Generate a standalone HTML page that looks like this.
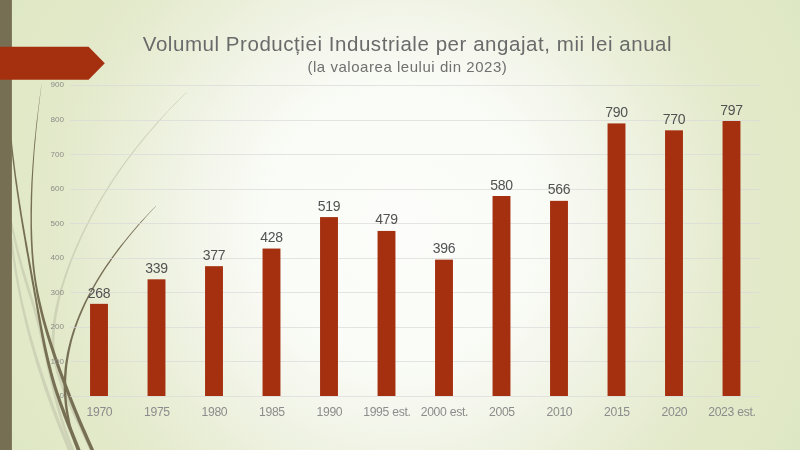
<!DOCTYPE html>
<html lang="ro">
<head>
<meta charset="utf-8">
<title>Volumul Producției Industriale per angajat</title>
<style>
html,body{margin:0;padding:0;}
body{width:800px;height:450px;overflow:hidden;position:relative;font-family:"Liberation Sans",sans-serif;background:#dee7c3;}
#bg{position:absolute;left:0;top:0;width:800px;height:450px;
background:radial-gradient(circle 460px at 400px 225px,#fcfdfa 0px,#fafcf7 130px,#f5f7ee 190px,#f1f4e6 220px,#e8edd4 300px,#e3e9ca 350px,#e1e9c7 400px,#dee7c3 460px);}
svg{position:absolute;left:0;top:0;width:800px;height:450px;display:block;}
.t{position:absolute;white-space:nowrap;}
.title{left:107.5px;width:600px;top:32px;text-align:center;color:#6a6a6a;font-size:20.5px;line-height:24px;letter-spacing:0.55px;}
.sub{left:107.4px;width:600px;top:57.9px;text-align:center;color:#707070;font-size:15px;line-height:18px;letter-spacing:0.54px;}
.yl{left:14px;width:50px;text-align:right;font-size:8.1px;line-height:10px;color:#8c8c88;}
.dl{width:60px;text-align:center;font-size:14px;line-height:16px;color:#525252;letter-spacing:-0.3px;}
.xl{width:90px;text-align:center;font-size:12.2px;line-height:14px;color:#8c8c8c;top:405px;letter-spacing:-0.3px;}
</style>
</head>
<body>
<div id="bg"></div>
<svg viewBox="0 0 800 450">
<path fill="#ced2b7" d="M10.5 238.1 L10.8 241.7 L11.2 245.4 L11.6 249.0 L12.0 252.6 L12.5 256.3 L13.0 259.9 L13.5 263.6 L14.1 267.2 L14.6 270.8 L15.2 274.5 L15.8 278.1 L16.5 281.7 L17.1 285.4 L17.8 289.0 L18.5 292.6 L19.2 296.3 L20.0 299.9 L20.7 303.5 L21.5 307.2 L22.3 310.8 L23.2 314.5 L24.0 318.1 L24.9 321.7 L25.8 325.4 L26.7 329.0 L27.6 332.6 L28.6 336.3 L29.5 339.9 L30.5 343.6 L31.5 347.2 L32.6 350.8 L33.6 354.5 L34.7 358.1 L35.7 361.8 L36.8 365.4 L38.0 369.0 L39.1 372.7 L40.3 376.3 L41.5 380.0 L42.7 383.6 L43.9 387.2 L45.1 390.9 L46.4 394.5 L47.7 398.1 L49.0 401.8 L50.3 405.4 L51.6 409.0 L53.0 412.7 L54.4 416.3 L55.7 419.9 L57.2 423.6 L58.6 427.2 L60.0 430.8 L61.5 434.5 L62.9 438.1 L64.4 441.7 L65.9 445.4 L67.4 449.0 L69.0 452.6 L72.0 451.4 L70.5 447.7 L69.0 444.1 L67.5 440.5 L66.0 436.9 L64.5 433.2 L63.1 429.6 L61.6 426.0 L60.2 422.4 L58.8 418.8 L57.4 415.1 L56.1 411.5 L54.7 407.9 L53.4 404.3 L52.1 400.7 L50.8 397.0 L49.5 393.4 L48.2 389.8 L47.0 386.2 L45.7 382.6 L44.5 379.0 L43.3 375.3 L42.1 371.7 L40.9 368.1 L39.8 364.5 L38.6 360.9 L37.5 357.3 L36.4 353.7 L35.3 350.0 L34.2 346.4 L33.2 342.8 L32.2 339.2 L31.2 335.6 L30.2 332.0 L29.2 328.3 L28.3 324.7 L27.4 321.1 L26.5 317.5 L25.6 313.9 L24.8 310.3 L23.9 306.6 L23.1 303.0 L22.3 299.4 L21.5 295.8 L20.8 292.2 L20.1 288.6 L19.4 284.9 L18.7 281.3 L18.0 277.7 L17.4 274.1 L16.8 270.5 L16.2 266.8 L15.7 263.2 L15.1 259.6 L14.6 256.0 L14.1 252.4 L13.6 248.8 L13.2 245.1 L12.7 241.5 L12.3 237.9Z"/>
<path fill="#ced2b7" d="M10.1 222.2 L10.9 226.1 L11.7 230.0 L12.6 233.9 L13.4 237.8 L14.2 241.7 L15.1 245.7 L16.0 249.6 L16.9 253.5 L17.9 257.4 L18.9 261.3 L20.0 265.2 L21.0 269.1 L22.1 273.0 L23.3 277.0 L24.4 280.9 L25.6 284.8 L26.9 288.7 L28.1 292.6 L29.3 296.5 L30.6 300.4 L31.7 304.2 L32.9 308.1 L33.9 312.0 L35.0 315.9 L36.0 319.8 L37.0 323.7 L38.0 327.6 L38.9 331.5 L39.9 335.4 L40.8 339.3 L41.7 343.1 L42.5 347.0 L43.4 350.9 L44.3 354.8 L45.1 358.7 L46.0 362.6 L46.8 366.5 L47.7 370.4 L48.6 374.3 L49.5 378.2 L50.4 382.1 L51.3 386.0 L52.2 389.9 L53.2 393.9 L54.2 397.8 L55.2 401.7 L56.2 405.6 L57.3 409.5 L58.4 413.4 L59.6 417.3 L60.8 421.2 L62.1 425.1 L63.4 429.0 L64.7 433.0 L66.2 436.9 L67.6 440.8 L69.2 444.7 L70.8 448.6 L72.4 452.5 L74.9 451.5 L73.3 447.6 L71.7 443.7 L70.1 439.8 L68.7 435.9 L67.3 432.1 L65.9 428.2 L64.6 424.3 L63.4 420.4 L62.2 416.5 L61.0 412.6 L59.9 408.8 L58.8 404.9 L57.8 401.0 L56.8 397.1 L55.8 393.2 L54.8 389.3 L53.9 385.4 L53.0 381.5 L52.1 377.6 L51.2 373.7 L50.3 369.8 L49.5 365.9 L48.6 362.0 L47.8 358.2 L46.9 354.3 L46.0 350.4 L45.2 346.5 L44.3 342.5 L43.4 338.6 L42.5 334.7 L41.6 330.8 L40.6 326.9 L39.6 323.0 L38.6 319.1 L37.6 315.2 L36.5 311.3 L35.4 307.4 L34.3 303.5 L33.1 299.6 L31.9 295.7 L30.7 291.8 L29.4 287.9 L28.2 284.0 L27.0 280.1 L25.8 276.2 L24.7 272.3 L23.5 268.4 L22.4 264.5 L21.4 260.7 L20.3 256.8 L19.3 252.9 L18.3 249.0 L17.4 245.1 L16.5 241.2 L15.6 237.4 L14.7 233.5 L13.8 229.6 L12.9 225.7 L12.0 221.8Z"/>
<path fill="#ced2b7" d="M186.6 91.9 L180.4 98.0 L174.3 104.1 L168.5 110.2 L162.8 116.3 L157.2 122.3 L151.8 128.4 L146.6 134.5 L141.5 140.6 L136.6 146.7 L131.8 152.8 L127.2 158.9 L122.7 165.0 L118.4 171.1 L114.2 177.2 L110.2 183.3 L106.3 189.4 L102.5 195.5 L98.9 201.6 L95.4 207.7 L92.0 213.8 L88.8 219.9 L85.6 226.0 L82.7 232.1 L79.8 238.2 L77.0 244.3 L74.4 250.4 L71.8 256.5 L69.4 262.6 L67.1 268.7 L64.9 274.8 L62.9 280.9 L61.0 287.0 L59.1 293.1 L57.5 299.2 L56.0 305.3 L54.7 311.5 L53.7 317.6 L52.8 323.7 L52.2 329.9 L51.8 336.0 L51.7 342.2 L51.9 348.4 L52.6 354.6 L53.5 360.7 L54.9 366.9 L56.5 373.1 L58.4 379.2 L60.5 385.4 L62.8 391.5 L65.3 397.6 L68.0 403.7 L70.8 409.8 L73.6 415.9 L76.5 422.0 L79.4 428.1 L82.2 434.2 L85.0 440.3 L87.8 446.4 L90.4 452.5 L92.6 451.5 L90.0 445.4 L87.2 439.3 L84.4 433.2 L81.5 427.1 L78.7 421.0 L75.8 414.9 L73.0 408.8 L70.3 402.7 L67.8 396.6 L65.3 390.5 L63.0 384.4 L60.9 378.4 L59.1 372.3 L57.5 366.3 L56.2 360.3 L55.2 354.2 L54.6 348.2 L54.4 342.2 L54.5 336.2 L54.8 330.1 L55.5 324.1 L56.3 318.0 L57.3 311.9 L58.5 305.9 L59.8 299.8 L61.2 293.7 L62.9 287.6 L64.7 281.5 L66.6 275.4 L68.7 269.3 L71.0 263.2 L73.3 257.1 L75.8 251.0 L78.4 244.9 L81.1 238.8 L83.9 232.7 L86.9 226.6 L90.0 220.5 L93.2 214.4 L96.5 208.3 L100.0 202.2 L103.6 196.1 L107.3 190.0 L111.2 183.9 L115.2 177.8 L119.4 171.7 L123.7 165.6 L128.1 159.5 L132.7 153.4 L137.4 147.3 L142.3 141.2 L147.3 135.1 L152.5 129.0 L157.8 122.9 L163.3 116.7 L168.9 110.6 L174.8 104.5 L180.7 98.4 L186.9 92.3Z"/>
<path fill="#766f54" d="M10.6 140.1 L11.0 145.4 L11.5 150.7 L12.1 155.9 L12.7 161.2 L13.4 166.5 L14.0 171.8 L14.7 177.1 L15.4 182.4 L16.2 187.7 L16.9 193.0 L17.7 198.3 L18.5 203.6 L19.3 208.9 L20.1 214.2 L21.0 219.5 L21.8 224.8 L22.7 230.0 L23.6 235.3 L24.5 240.6 L25.4 245.9 L26.3 251.2 L27.3 256.5 L28.2 261.8 L29.1 267.1 L30.1 272.4 L31.0 277.7 L31.9 283.0 L32.9 288.2 L33.8 293.5 L34.8 298.8 L35.7 304.1 L36.6 309.4 L37.5 314.7 L38.4 320.0 L39.4 325.3 L40.3 330.6 L41.3 335.9 L42.3 341.2 L43.3 346.5 L44.4 351.8 L45.6 357.1 L46.8 362.4 L48.1 367.8 L49.5 373.1 L50.9 378.4 L52.4 383.7 L54.0 389.0 L55.7 394.3 L57.5 399.6 L59.3 405.0 L61.3 410.3 L63.2 415.6 L65.3 420.9 L67.3 426.2 L69.4 431.5 L71.5 436.8 L73.5 442.1 L75.6 447.4 L77.6 452.7 L81.1 451.3 L79.0 446.0 L76.9 440.8 L74.8 435.5 L72.7 430.2 L70.5 424.9 L68.4 419.7 L66.4 414.4 L64.3 409.1 L62.4 403.9 L60.5 398.6 L58.7 393.3 L56.9 388.1 L55.3 382.8 L53.8 377.6 L52.3 372.3 L51.0 367.0 L49.7 361.8 L48.4 356.5 L47.2 351.2 L46.0 346.0 L44.9 340.7 L43.8 335.4 L42.7 330.1 L41.7 324.9 L40.7 319.6 L39.7 314.3 L38.7 309.0 L37.7 303.8 L36.8 298.5 L35.8 293.2 L34.9 287.9 L33.9 282.6 L33.0 277.3 L32.0 272.0 L31.1 266.7 L30.1 261.5 L29.2 256.2 L28.2 250.9 L27.3 245.6 L26.3 240.3 L25.4 235.0 L24.5 229.7 L23.6 224.5 L22.7 219.2 L21.8 213.9 L21.0 208.6 L20.1 203.3 L19.3 198.0 L18.5 192.8 L17.7 187.5 L17.0 182.2 L16.2 176.9 L15.5 171.6 L14.8 166.3 L14.2 161.1 L13.5 155.8 L12.9 150.5 L12.3 145.2 L11.8 139.9Z"/>
<path fill="#766f54" d="M41.6 84.0 L40.7 90.2 L39.8 96.5 L39.0 102.7 L38.2 108.9 L37.4 115.2 L36.6 121.4 L35.9 127.6 L35.3 133.9 L34.6 140.1 L34.0 146.3 L33.5 152.6 L33.0 158.8 L32.5 165.0 L32.1 171.3 L31.7 177.5 L31.3 183.8 L31.1 190.0 L30.8 196.3 L30.7 202.5 L30.5 208.7 L30.5 215.0 L30.5 221.2 L30.5 227.5 L30.6 233.7 L30.8 240.0 L31.1 246.2 L31.4 252.5 L31.9 258.7 L32.4 265.0 L33.1 271.2 L33.9 277.5 L34.8 283.8 L35.8 290.0 L36.8 296.3 L38.1 302.6 L39.5 308.8 L41.0 315.1 L42.6 321.4 L44.3 327.6 L46.1 333.9 L48.0 340.2 L50.0 346.4 L52.0 352.7 L54.1 358.9 L56.3 365.2 L58.5 371.4 L60.8 377.7 L63.1 384.0 L65.4 390.2 L67.9 396.5 L70.3 402.7 L72.8 408.9 L75.4 415.2 L77.9 421.5 L80.6 427.7 L83.3 434.0 L86.0 440.2 L88.8 446.5 L91.7 452.7 L94.7 451.3 L91.9 445.1 L89.1 438.8 L86.4 432.6 L83.7 426.4 L81.0 420.2 L78.4 414.0 L75.8 407.7 L73.3 401.5 L70.9 395.3 L68.5 389.0 L66.1 382.8 L63.7 376.6 L61.4 370.4 L59.2 364.2 L57.0 357.9 L54.9 351.7 L52.8 345.5 L50.8 339.3 L48.8 333.1 L47.0 326.9 L45.2 320.7 L43.5 314.5 L42.0 308.2 L40.5 302.0 L39.1 295.8 L37.8 289.6 L36.7 283.4 L35.7 277.2 L34.9 271.0 L34.2 264.8 L33.6 258.6 L33.1 252.4 L32.7 246.1 L32.4 239.9 L32.2 233.7 L32.0 227.4 L31.9 221.2 L31.9 215.0 L32.0 208.8 L32.1 202.5 L32.2 196.3 L32.4 190.1 L32.6 183.8 L32.9 177.6 L33.2 171.4 L33.6 165.1 L34.0 158.9 L34.4 152.6 L34.9 146.4 L35.5 140.2 L36.0 133.9 L36.6 127.7 L37.3 121.5 L37.9 115.2 L38.6 109.0 L39.4 102.7 L40.1 96.5 L40.9 90.3 L41.7 84.0Z"/>
<path fill="#766f54" d="M155.9 205.9 L152.1 209.8 L148.3 213.7 L144.6 217.7 L141.0 221.6 L137.4 225.5 L134.0 229.5 L130.6 233.4 L127.3 237.4 L124.1 241.4 L120.9 245.3 L117.8 249.3 L114.9 253.2 L111.9 257.2 L109.1 261.2 L106.4 265.1 L103.7 269.1 L101.1 273.1 L98.6 277.0 L96.2 281.0 L93.9 285.0 L91.6 288.9 L89.4 292.9 L87.3 296.9 L85.3 300.8 L83.4 304.8 L81.6 308.8 L79.8 312.8 L78.2 316.7 L76.6 320.7 L75.1 324.7 L73.7 328.7 L72.4 332.6 L71.2 336.6 L70.0 340.6 L69.0 344.6 L68.0 348.5 L67.1 352.5 L66.4 356.5 L65.7 360.5 L65.1 364.5 L64.6 368.5 L64.3 372.5 L64.0 376.5 L63.8 380.5 L63.7 384.5 L63.7 388.5 L63.9 392.5 L64.1 396.5 L64.4 400.4 L64.8 404.4 L65.3 408.4 L66.0 412.4 L66.7 416.4 L67.6 420.4 L68.5 424.4 L69.6 428.4 L70.8 432.3 L72.2 436.3 L73.6 440.2 L74.9 439.8 L73.7 435.8 L72.6 431.8 L71.5 427.8 L70.6 423.9 L69.8 419.9 L69.0 416.0 L68.3 412.0 L67.7 408.1 L67.2 404.2 L66.8 400.2 L66.5 396.3 L66.3 392.4 L66.2 388.4 L66.2 384.5 L66.2 380.5 L66.4 376.6 L66.7 372.7 L67.0 368.7 L67.4 364.8 L68.0 360.8 L68.6 356.9 L69.3 353.0 L70.1 349.0 L71.0 345.1 L71.9 341.1 L73.0 337.1 L74.2 333.2 L75.4 329.2 L76.8 325.3 L78.2 321.3 L79.7 317.4 L81.4 313.4 L83.1 309.5 L84.9 305.5 L86.7 301.5 L88.7 297.6 L90.7 293.6 L92.9 289.6 L95.1 285.7 L97.4 281.7 L99.8 277.7 L102.3 273.8 L104.8 269.8 L107.4 265.9 L110.2 261.9 L112.9 257.9 L115.8 253.9 L118.8 250.0 L121.8 246.0 L124.9 242.0 L128.1 238.1 L131.4 234.1 L134.7 230.1 L138.1 226.1 L141.6 222.1 L145.1 218.1 L148.7 214.1 L152.4 210.1 L156.2 206.1Z"/>
<rect x="0" y="0" width="11.9" height="450" fill="#766f54"/>
</svg>
<svg viewBox="0 0 800 450">
<g fill="#d9d9d9" fill-opacity="0.68" shape-rendering="crispEdges">
<rect x="70" y="396" width="690.4" height="1"/>
<rect x="70" y="361" width="690.4" height="1"/>
<rect x="70" y="327" width="690.4" height="1"/>
<rect x="70" y="292" width="690.4" height="1"/>
<rect x="70" y="258" width="690.4" height="1"/>
<rect x="70" y="223" width="690.4" height="1"/>
<rect x="70" y="189" width="690.4" height="1"/>
<rect x="70" y="154" width="690.4" height="1"/>
<rect x="70" y="120" width="690.4" height="1"/>
<rect x="70" y="85" width="690.4" height="1"/>
</g>
<g fill="#a5300f">
<rect x="90.05" y="303.86" width="17.90" height="92.14"/>
<rect x="147.55" y="279.32" width="17.90" height="116.68"/>
<rect x="205.05" y="266.18" width="17.90" height="129.82"/>
<rect x="262.55" y="248.55" width="17.90" height="147.45"/>
<rect x="320.05" y="217.10" width="17.90" height="178.90"/>
<rect x="377.55" y="230.93" width="17.90" height="165.07"/>
<rect x="435.05" y="259.62" width="17.90" height="136.38"/>
<rect x="492.55" y="196.01" width="17.90" height="199.99"/>
<rect x="550.05" y="200.85" width="17.90" height="195.15"/>
<rect x="607.55" y="123.42" width="17.90" height="272.58"/>
<rect x="665.05" y="130.34" width="17.90" height="265.66"/>
<rect x="722.55" y="121.00" width="17.90" height="275.00"/>
</g>
<polygon points="0,46.8 88.6,46.8 104.8,63.3 88.6,79.8 0,79.8" fill="#a5300f"/>
</svg>
<div class="t yl" style="top:391px">0</div>
<div class="t yl" style="top:357px">100</div>
<div class="t yl" style="top:322px">200</div>
<div class="t yl" style="top:288px">300</div>
<div class="t yl" style="top:253px">400</div>
<div class="t yl" style="top:219px">500</div>
<div class="t yl" style="top:184px">600</div>
<div class="t yl" style="top:150px">700</div>
<div class="t yl" style="top:115px">800</div>
<div class="t yl" style="top:80px">900</div>
<div class="t dl" style="left:69.1px;top:285px">268</div>
<div class="t xl" style="left:54.4px">1970</div>
<div class="t dl" style="left:126.6px;top:260px">339</div>
<div class="t xl" style="left:111.9px">1975</div>
<div class="t dl" style="left:184.1px;top:247px">377</div>
<div class="t xl" style="left:169.4px">1980</div>
<div class="t dl" style="left:241.6px;top:229px">428</div>
<div class="t xl" style="left:226.9px">1985</div>
<div class="t dl" style="left:299.1px;top:198px">519</div>
<div class="t xl" style="left:284.4px">1990</div>
<div class="t dl" style="left:356.6px;top:211px">479</div>
<div class="t xl" style="left:341.9px">1995 est.</div>
<div class="t dl" style="left:414.1px;top:240px">396</div>
<div class="t xl" style="left:399.4px">2000 est.</div>
<div class="t dl" style="left:471.6px;top:177px">580</div>
<div class="t xl" style="left:456.9px">2005</div>
<div class="t dl" style="left:529.1px;top:181px">566</div>
<div class="t xl" style="left:514.4px">2010</div>
<div class="t dl" style="left:586.6px;top:104px">790</div>
<div class="t xl" style="left:571.9px">2015</div>
<div class="t dl" style="left:644.1px;top:111px">770</div>
<div class="t xl" style="left:629.4px">2020</div>
<div class="t dl" style="left:701.6px;top:102px">797</div>
<div class="t xl" style="left:686.9px">2023 est.</div>
<div class="t title">Volumul Producției Industriale per angajat, mii lei anual</div>
<div class="t sub">(la valoarea leului din 2023)</div>
</body>
</html>
